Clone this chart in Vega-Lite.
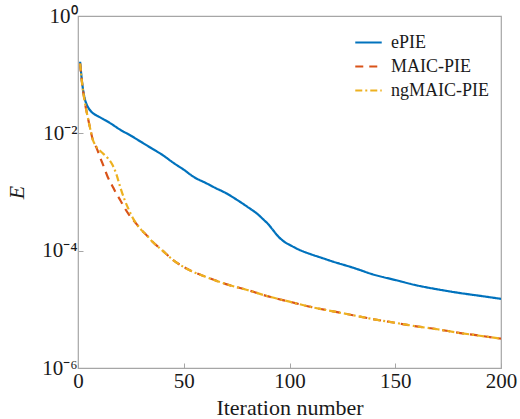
{
  "$schema": "https://vega.github.io/schema/vega-lite/v6.json",
  "width": 423,
  "height": 352,
  "autosize": "none",
  "padding": {"left": 78, "top": 16, "right": 19, "bottom": 51},
  "background": "white",
  "config": {
    "font": "Liberation Serif",
    "view": {"stroke": "#a6a6a6", "strokeWidth": 1.2},
    "axis": {
      "domain": false,
      "grid": false,
      "ticks": true,
      "tickColor": "#a6a6a6",
      "tickSize": -5,
      "labelFont": "Liberation Serif",
      "labelFontSize": 21,
      "labelColor": "#1a1a1a",
      "titleFont": "Liberation Serif",
      "titleFontSize": 22,
      "titleFontWeight": "normal",
      "titleColor": "#1a1a1a"
    },
    "legend": {
      "labelFont": "Liberation Serif",
      "labelFontSize": 18,
      "labelColor": "#1a1a1a"
    }
  },
  "data": {
    "values": [
      {"iter": 1, "method": "ePIE", "E": 0.166},
      {"iter": 2, "method": "ePIE", "E": 0.0708},
      {"iter": 3, "method": "ePIE", "E": 0.0417},
      {"iter": 4, "method": "ePIE", "E": 0.0316},
      {"iter": 5, "method": "ePIE", "E": 0.0269},
      {"iter": 6, "method": "ePIE", "E": 0.0240},
      {"iter": 8, "method": "ePIE", "E": 0.0209},
      {"iter": 10, "method": "ePIE", "E": 0.0191},
      {"iter": 12, "method": "ePIE", "E": 0.0174},
      {"iter": 15, "method": "ePIE", "E": 0.0151},
      {"iter": 20, "method": "ePIE", "E": 0.0115},
      {"iter": 25, "method": "ePIE", "E": 0.00912},
      {"iter": 30, "method": "ePIE", "E": 0.00708},
      {"iter": 35, "method": "ePIE", "E": 0.00550},
      {"iter": 40, "method": "ePIE", "E": 0.00427},
      {"iter": 45, "method": "ePIE", "E": 0.00316},
      {"iter": 50, "method": "ePIE", "E": 0.00240},
      {"iter": 55, "method": "ePIE", "E": 0.00178},
      {"iter": 60, "method": "ePIE", "E": 0.00145},
      {"iter": 65, "method": "ePIE", "E": 0.00117},
      {"iter": 70, "method": "ePIE", "E": 0.000955},
      {"iter": 75, "method": "ePIE", "E": 0.000741},
      {"iter": 80, "method": "ePIE", "E": 0.000562},
      {"iter": 85, "method": "ePIE", "E": 0.000417},
      {"iter": 88, "method": "ePIE", "E": 0.000331},
      {"iter": 90, "method": "ePIE", "E": 0.000282},
      {"iter": 92, "method": "ePIE", "E": 0.000229},
      {"iter": 95, "method": "ePIE", "E": 0.000170},
      {"iter": 98, "method": "ePIE", "E": 0.000138},
      {"iter": 100, "method": "ePIE", "E": 0.000126},
      {"iter": 105, "method": "ePIE", "E": 0.000102},
      {"iter": 110, "method": "ePIE", "E": 0.0000871},
      {"iter": 115, "method": "ePIE", "E": 0.0000759},
      {"iter": 120, "method": "ePIE", "E": 0.0000661},
      {"iter": 130, "method": "ePIE", "E": 0.0000513},
      {"iter": 140, "method": "ePIE", "E": 0.0000389},
      {"iter": 150, "method": "ePIE", "E": 0.0000316},
      {"iter": 160, "method": "ePIE", "E": 0.0000257},
      {"iter": 170, "method": "ePIE", "E": 0.0000219},
      {"iter": 180, "method": "ePIE", "E": 0.0000191},
      {"iter": 190, "method": "ePIE", "E": 0.0000170},
      {"iter": 200, "method": "ePIE", "E": 0.0000151},

      {"iter": 1, "method": "MAIC-PIE", "E": 0.155},
      {"iter": 2, "method": "MAIC-PIE", "E": 0.0676},
      {"iter": 3, "method": "MAIC-PIE", "E": 0.0380},
      {"iter": 4, "method": "MAIC-PIE", "E": 0.0240},
      {"iter": 5, "method": "MAIC-PIE", "E": 0.0162},
      {"iter": 6, "method": "MAIC-PIE", "E": 0.0110},
      {"iter": 7, "method": "MAIC-PIE", "E": 0.00776},
      {"iter": 8, "method": "MAIC-PIE", "E": 0.00646},
      {"iter": 9, "method": "MAIC-PIE", "E": 0.00537},
      {"iter": 11, "method": "MAIC-PIE", "E": 0.00347},
      {"iter": 12, "method": "MAIC-PIE", "E": 0.00282},
      {"iter": 14, "method": "MAIC-PIE", "E": 0.00182},
      {"iter": 16, "method": "MAIC-PIE", "E": 0.00132},
      {"iter": 18, "method": "MAIC-PIE", "E": 0.000955},
      {"iter": 20, "method": "MAIC-PIE", "E": 0.000724},
      {"iter": 22, "method": "MAIC-PIE", "E": 0.000537},
      {"iter": 24, "method": "MAIC-PIE", "E": 0.000417},
      {"iter": 26, "method": "MAIC-PIE", "E": 0.000339},
      {"iter": 28, "method": "MAIC-PIE", "E": 0.000275},
      {"iter": 30, "method": "MAIC-PIE", "E": 0.000224},
      {"iter": 32, "method": "MAIC-PIE", "E": 0.000191},
      {"iter": 35, "method": "MAIC-PIE", "E": 0.000145},
      {"iter": 40, "method": "MAIC-PIE", "E": 0.000100},
      {"iter": 45, "method": "MAIC-PIE", "E": 0.0000692},
      {"iter": 50, "method": "MAIC-PIE", "E": 0.0000525},
      {"iter": 55, "method": "MAIC-PIE", "E": 0.0000427},
      {"iter": 60, "method": "MAIC-PIE", "E": 0.0000363},
      {"iter": 70, "method": "MAIC-PIE", "E": 0.0000269},
      {"iter": 80, "method": "MAIC-PIE", "E": 0.0000214},
      {"iter": 90, "method": "MAIC-PIE", "E": 0.0000166},
      {"iter": 100, "method": "MAIC-PIE", "E": 0.0000135},
      {"iter": 110, "method": "MAIC-PIE", "E": 0.0000110},
      {"iter": 120, "method": "MAIC-PIE", "E": 0.00000933},
      {"iter": 130, "method": "MAIC-PIE", "E": 0.00000794},
      {"iter": 140, "method": "MAIC-PIE", "E": 0.00000676},
      {"iter": 150, "method": "MAIC-PIE", "E": 0.00000589},
      {"iter": 160, "method": "MAIC-PIE", "E": 0.00000513},
      {"iter": 170, "method": "MAIC-PIE", "E": 0.00000457},
      {"iter": 180, "method": "MAIC-PIE", "E": 0.00000398},
      {"iter": 190, "method": "MAIC-PIE", "E": 0.00000355},
      {"iter": 200, "method": "MAIC-PIE", "E": 0.00000316},

      {"iter": 1, "method": "ngMAIC-PIE", "E": 0.155},
      {"iter": 2, "method": "ngMAIC-PIE", "E": 0.0676},
      {"iter": 3, "method": "ngMAIC-PIE", "E": 0.0380},
      {"iter": 4, "method": "ngMAIC-PIE", "E": 0.0240},
      {"iter": 5, "method": "ngMAIC-PIE", "E": 0.0162},
      {"iter": 6, "method": "ngMAIC-PIE", "E": 0.0110},
      {"iter": 7, "method": "ngMAIC-PIE", "E": 0.00776},
      {"iter": 8, "method": "ngMAIC-PIE", "E": 0.00646},
      {"iter": 10, "method": "ngMAIC-PIE", "E": 0.00525},
      {"iter": 12, "method": "ngMAIC-PIE", "E": 0.00447},
      {"iter": 14, "method": "ngMAIC-PIE", "E": 0.00380},
      {"iter": 16, "method": "ngMAIC-PIE", "E": 0.00302},
      {"iter": 18, "method": "ngMAIC-PIE", "E": 0.00209},
      {"iter": 20, "method": "ngMAIC-PIE", "E": 0.00120},
      {"iter": 22, "method": "ngMAIC-PIE", "E": 0.000741},
      {"iter": 24, "method": "ngMAIC-PIE", "E": 0.000501},
      {"iter": 26, "method": "ngMAIC-PIE", "E": 0.000355},
      {"iter": 28, "method": "ngMAIC-PIE", "E": 0.000275},
      {"iter": 30, "method": "ngMAIC-PIE", "E": 0.000224},
      {"iter": 32, "method": "ngMAIC-PIE", "E": 0.000191},
      {"iter": 35, "method": "ngMAIC-PIE", "E": 0.000145},
      {"iter": 40, "method": "ngMAIC-PIE", "E": 0.000100},
      {"iter": 45, "method": "ngMAIC-PIE", "E": 0.0000692},
      {"iter": 50, "method": "ngMAIC-PIE", "E": 0.0000525},
      {"iter": 55, "method": "ngMAIC-PIE", "E": 0.0000427},
      {"iter": 60, "method": "ngMAIC-PIE", "E": 0.0000363},
      {"iter": 70, "method": "ngMAIC-PIE", "E": 0.0000269},
      {"iter": 80, "method": "ngMAIC-PIE", "E": 0.0000214},
      {"iter": 90, "method": "ngMAIC-PIE", "E": 0.0000166},
      {"iter": 100, "method": "ngMAIC-PIE", "E": 0.0000135},
      {"iter": 110, "method": "ngMAIC-PIE", "E": 0.0000110},
      {"iter": 120, "method": "ngMAIC-PIE", "E": 0.00000933},
      {"iter": 130, "method": "ngMAIC-PIE", "E": 0.00000794},
      {"iter": 140, "method": "ngMAIC-PIE", "E": 0.00000676},
      {"iter": 150, "method": "ngMAIC-PIE", "E": 0.00000589},
      {"iter": 160, "method": "ngMAIC-PIE", "E": 0.00000513},
      {"iter": 170, "method": "ngMAIC-PIE", "E": 0.00000457},
      {"iter": 180, "method": "ngMAIC-PIE", "E": 0.00000398},
      {"iter": 190, "method": "ngMAIC-PIE", "E": 0.00000355},
      {"iter": 200, "method": "ngMAIC-PIE", "E": 0.00000316}
    ]
  },
  "mark": {"type": "line", "strokeWidth": 2.2, "interpolate": "monotone", "clip": true},
  "encoding": {
    "x": {
      "field": "iter",
      "type": "quantitative",
      "scale": {"domain": [0, 200], "nice": false, "zero": false},
      "axis": {"values": [0, 50, 100, 150, 200], "title": "Iteration number", "labelPadding": 7, "titlePadding": 6, "labelFlush": false}
    },
    "y": {
      "field": "E",
      "type": "quantitative",
      "scale": {"type": "log", "domain": [0.000001, 1], "nice": false},
      "axis": {
        "values": [0.000001, 0.0001, 0.01, 1],
        "labelExpr": "datum.value >= 0.5 ? '10⁰' : datum.value >= 0.005 ? '10⁻²' : datum.value >= 0.00005 ? '10⁻⁴' : '10⁻⁶'",
        "title": "E",
        "titleFontStyle": "italic",
        "titleAngle": -90,
        "titlePadding": 13,
        "labelPadding": 6,
        "labelFlush": false
      }
    },
    "color": {
      "field": "method",
      "type": "nominal",
      "scale": {"domain": ["ePIE", "MAIC-PIE", "ngMAIC-PIE"], "range": ["#0072BD", "#D95319", "#EDB120"]},
      "legend": {
        "title": null,
        "orient": "none",
        "legendX": 276,
        "legendY": 12,
        "symbolType": "stroke",
        "symbolSize": 700,
        "symbolStrokeWidth": 2.2,
        "rowPadding": -7,
        "labelOffset": 8
      }
    },
    "strokeDash": {
      "field": "method",
      "type": "nominal",
      "scale": {"domain": ["ePIE", "MAIC-PIE", "ngMAIC-PIE"], "range": [[1, 0], [8, 6], [7, 3, 2, 3]]},
      "legend": null
    },
    "order": {"field": "iter", "type": "quantitative"}
  }
}
